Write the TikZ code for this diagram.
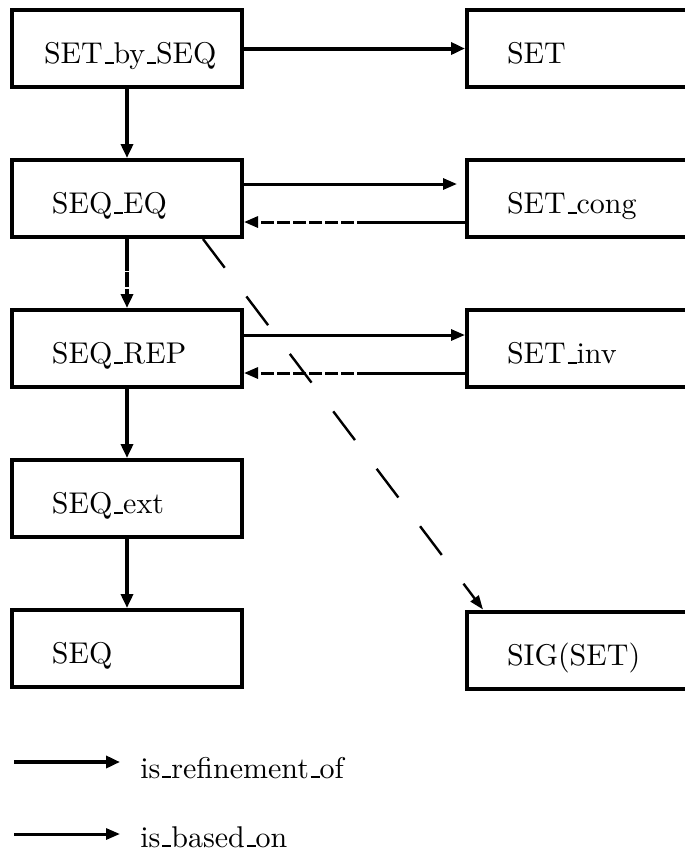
\documentclass[tikz,border=0pt]{standalone}
\usetikzlibrary{arrows.meta}
\font\boxfont="[lmroman10-regular]:mapping=tex-text" at 15pt
\newcommand{\usc}{\leavevmode\kern.06em\vbox{\hrule width.3em height .9pt}}
\begin{document}
\begin{tikzpicture}[x=0.5pt,y=-0.5pt,
    every node/.style={font=\boxfont},
    modbox/.style={draw,line width=2pt,minimum height=38.5pt,inner xsep=20pt,
      align=left,text height=16pt,text depth=1pt},
    leftbox/.style={modbox,minimum width=115pt,text width=75pt},
    rightbox/.style={modbox,minimum width=130pt,text width=90pt,anchor=west},
    refines/.style={line width=2pt,-{Triangle[length=7pt,width=6pt]}},
    based/.style={line width=1.5pt,-{Triangle[length=7pt,width=5.5pt]}},
    dashpart/.style={dash pattern=on 6.5pt off 1.5pt},
    uses/.style={line width=1.2pt,dash pattern=on 18pt off 18pt,
      -{Triangle[length=7pt,width=5pt]}}]
    \useasboundingbox (0,0) rectangle (685,853);
    \clip (0,0) rectangle (685,853);
    % module boxes
    \foreach \nm/\txt [count=\r from 0] in {setbyseq/\hspace*{-4pt}SET\usc by\usc SEQ,
        seqeq/SEQ\usc EQ, seqrep/SEQ\usc REP, seqext/SEQ\usc ext, seq/SEQ}
      \node[leftbox] (\nm) at (127, 48.5+150*\r) {\txt};
    \node[rightbox] (set) at (465, 48.5) {SET};
    \node[rightbox] (setcong) at (465, 198.5) {SET\usc cong};
    \node[rightbox] (setinv) at (465, 348.5) {SET\usc inv};
    \node[rightbox] (sigset) at (465, 650) {SIG(SET)};
    % refinements
    \draw[refines] (setbyseq.east) -- (set.west);
    \draw[refines] (setbyseq.south) -- (seqeq.north);
    \draw[refines,dash pattern=on 16pt off 0.7pt on 7.5pt off 0.7pt on 40pt]
      (seqeq.south) -- (seqrep.north);
    \draw[refines] (seqrep.south) -- (seqext.north);
    \draw[refines] (seqext.south) -- (seq.north);
    % based on
    \draw[based] ([yshift=7.25pt]seqeq.east) -- ([yshift=7.25pt,xshift=-4pt]setcong.west);
    \coordinate (congmid) at (370,222);
    \draw[line width=1.5pt] ([yshift=-11.75pt]setcong.west) -- (congmid);
    \draw[based,dashpart] (congmid) -- ([yshift=-11.75pt]seqeq.east);
    \draw[based] ([yshift=6.75pt]seqrep.east) -- ([yshift=6.75pt]setinv.west);
    \coordinate (invmid) at (370,373);
    \draw[line width=1.5pt] ([yshift=-12.25pt]setinv.west) -- (invmid);
    \draw[based,dashpart] (invmid) -- ([yshift=-12.25pt]seqrep.east);
    \draw[uses] ([xshift=38pt]seqeq.south) -- ([xshift=9pt]sigset.north west);
    % legend
    \coordinate (refA) at (14,762);
    \coordinate (refB) at (120,762);
    \draw[refines] (refA) -- (refB);
    \node[anchor=base west,inner sep=0pt] (reftxt) at (140,778) {is\usc refinement\usc of};
    \coordinate (basA) at (14,834);
    \coordinate (basB) at (120,834);
    \draw[based] (basA) -- (basB);
    \node[anchor=base west,inner sep=0pt] (bastxt) at (140,847) {is\usc based\usc on};
  \end{tikzpicture}
\end{document}
